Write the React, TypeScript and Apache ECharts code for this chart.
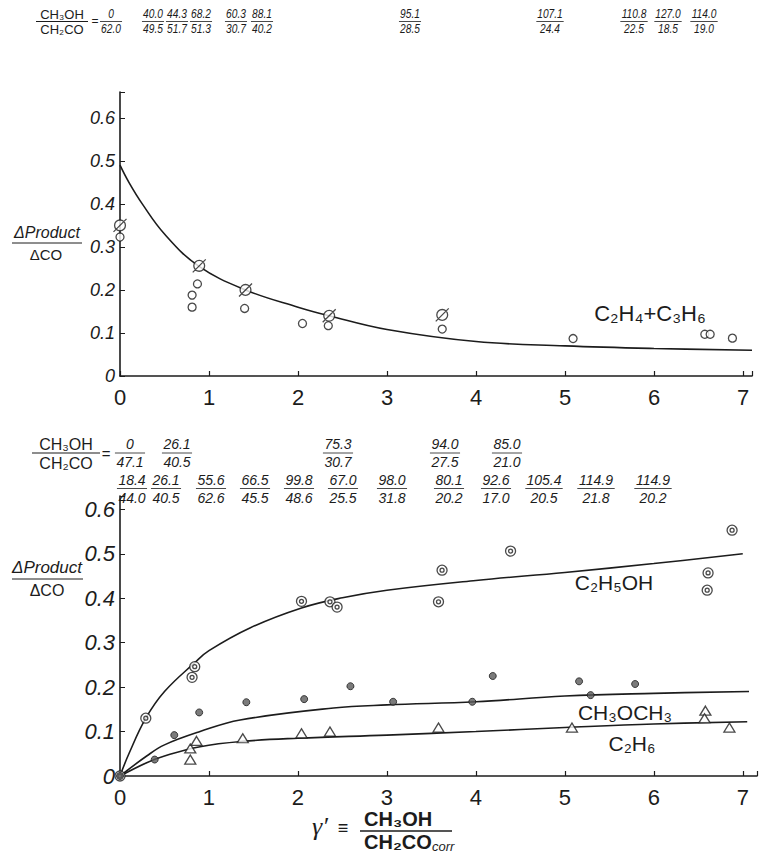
import React, { useEffect, useRef } from "react";
import * as echarts from "echarts";

// ---------- DATA ----------
// Upper panel: C2H4 + C3H6
const topOpenX = [0, 0.87, 0.81, 0.81, 1.4, 2.05, 2.34, 3.62, 5.09, 6.57, 6.63, 6.88];
const topOpenY = [0.323, 0.214, 0.188, 0.16, 0.157, 0.122, 0.117, 0.109, 0.087, 0.097, 0.097, 0.088];
const topTickX = [0, 0.89, 1.41, 2.35, 3.62];
const topTickY = [0.35, 0.256, 0.2, 0.14, 0.142];
const topCurveX = [0, 0.1, 0.25, 0.5, 0.88, 1.41, 2, 2.35, 3, 4, 5, 6, 7.1];
const topCurveY = [0.49, 0.45, 0.4, 0.33, 0.256, 0.2, 0.16, 0.14, 0.108, 0.08, 0.07, 0.064, 0.06];

// Lower panel
const etohX = [0, 0.29, 0.84, 0.81, 2.04, 2.36, 2.44, 3.62, 3.58, 4.39, 6.61, 6.6, 6.88];
const etohY = [0, 0.13, 0.246, 0.222, 0.393, 0.392, 0.38, 0.463, 0.392, 0.506, 0.457, 0.418, 0.553];
const etohCurveX = [0, 0.1, 0.29, 0.5, 0.84, 1.0, 1.46, 2.04, 2.5, 3, 4, 5, 6, 7];
const etohCurveY = [0, 0.05, 0.13, 0.19, 0.255, 0.282, 0.333, 0.378, 0.401, 0.418, 0.44, 0.458, 0.478, 0.5];

const meX = [0, 0.39, 0.61, 0.89, 1.42, 2.07, 2.59, 3.07, 3.96, 4.19, 5.16, 5.29, 5.79];
const meY = [0, 0.037, 0.092, 0.143, 0.166, 0.173, 0.202, 0.167, 0.167, 0.225, 0.213, 0.182, 0.207];
const meCurveX = [0, 0.3, 0.5, 0.9, 1.35, 2.4, 3, 4, 5, 6, 7.07];
const meCurveY = [0, 0.045, 0.07, 0.1, 0.126, 0.153, 0.16, 0.167, 0.18, 0.186, 0.19];

const etX = [0.79, 0.79, 0.86, 1.38, 2.04, 2.36, 3.58, 5.08, 6.58, 6.57, 6.85];
const etY = [0.037, 0.062, 0.079, 0.085, 0.096, 0.1, 0.109, 0.109, 0.147, 0.13, 0.109];
const etCurveX = [0, 0.3, 0.5, 0.9, 1.38, 2, 3, 4, 5, 6, 7.05];
const etCurveY = [0, 0.03, 0.045, 0.066, 0.078, 0.085, 0.092, 0.1, 0.109, 0.117, 0.122];

// Ratio annotations CH3OH / CH2CO
const rowANum = ["0", "40.0", "44.3", "68.2", "60.3", "88.1", "95.1", "107.1", "110.8", "127.0", "114.0"];
const rowADen = ["62.0", "49.5", "51.7", "51.3", "30.7", "40.2", "28.5", "24.4", "22.5", "18.5", "19.0"];
const rowBNum = ["0", "26.1", "75.3", "94.0", "85.0"];
const rowBDen = ["47.1", "40.5", "30.7", "27.5", "21.0"];
const rowCNum = ["18.4", "26.1", "55.6", "66.5", "99.8", "67.0", "98.0", "80.1", "92.6", "105.4", "114.9", "114.9"];
const rowCDen = ["44.0", "40.5", "62.6", "45.5", "48.6", "25.5", "31.8", "20.2", "17.0", "20.5", "21.8", "20.2"];

// ---------- LAYOUT (positions only) ----------
const rowAX = [111, 153, 177, 201, 236, 262, 410, 550, 634, 668, 704];
const rowBX = [130, 177, 338, 445, 507];
const rowCX = [132, 166, 211, 255, 299, 343, 392, 449, 496, 544, 596, 653];

const INK = "#1c1c1c";
const HAND = "'Liberation Sans', 'DejaVu Sans', sans-serif";
const SANS = "'Liberation Sans', 'DejaVu Sans', sans-serif";

const zip = (xs: number[], ys: number[]) => xs.map((x, i) => [x, ys[i]]);

function txt(x: number, y: number, text: string, fontSize: number, opts: any = {}) {
  return {
    type: "text",
    x,
    y,
    scaleX: opts.scaleX || 1,
    silent: true,
    style: {
      text,
      fontSize,
      fontFamily: opts.fontFamily || HAND,
      fontStyle: opts.fontStyle || "italic",
      fontWeight: opts.fontWeight || "normal",
      fill: INK,
      align: opts.align || "center",
      verticalAlign: "middle",
    },
  };
}

function hline(x1: number, x2: number, y: number, w = 1) {
  return {
    type: "line",
    silent: true,
    shape: { x1, y1: y, x2, y2: y },
    style: { stroke: INK, lineWidth: w },
  };
}

function fracRow(
  xs: number[], nums: string[], dens: string[],
  yN: number, yL: number, yD: number, fs: number, sx: number
) {
  const out: any[] = [];
  xs.forEach((cx, i) => {
    const w = (Math.max(nums[i].length, dens[i].length) * fs * 0.52 + 1) * sx;
    out.push(txt(cx, yN, nums[i], fs, { scaleX: sx }));
    out.push(hline(cx - w / 2, cx + w / 2, yL, 0.8));
    out.push(txt(cx, yD, dens[i], fs, { scaleX: sx }));
  });
  return out;
}

const tickedCircle = "path://M2,7a5,5 0 1,0 10,0a5,5 0 1,0 -10,0Z M1,13 L13,1";
const doubleCircle = "path://M0,6a6,6 0 1,0 12,0a6,6 0 1,0 -12,0Z M3.6,6a2.4,2.4 0 1,0 4.8,0a2.4,2.4 0 1,0 -4.8,0Z";

const xFmt = (v: number) => (Math.abs(v - Math.round(v)) < 1e-6 ? String(Math.round(v)) : "");
const yFmt = (v: number) => {
  const r = Math.round(v * 10) / 10;
  if (Math.abs(v - r) > 1e-6) return "";
  return r === 0 ? "0" : r.toFixed(1);
};

function xAxisCfg(gridIndex: number, max: number) {
  return {
    type: "value",
    gridIndex,
    min: 0,
    max,
    interval: 1,
    axisLine: { lineStyle: { color: INK, width: 1.6 } },
    axisTick: { inside: true, length: 5, lineStyle: { color: INK, width: 1.2 } },
    splitLine: { show: false },
    axisLabel: { formatter: xFmt, color: INK, fontSize: 22, fontFamily: SANS, margin: 10 },
  };
}

function yAxisCfg(gridIndex: number, max: number, fs: number) {
  return {
    type: "value",
    gridIndex,
    min: 0,
    max,
    interval: 0.1,
    axisLine: { show: true, lineStyle: { color: INK, width: 1.6 } },
    axisTick: { show: true, inside: true, length: 5, lineStyle: { color: INK, width: 1 } },
    splitLine: { show: false },
    axisLabel: { formatter: yFmt, color: INK, fontSize: fs, fontFamily: SANS, fontStyle: "italic", margin: 5 },
  };
}

function curve(name: string, xi: number, xs: number[], ys: number[]) {
  return {
    name,
    type: "line",
    xAxisIndex: xi,
    yAxisIndex: xi,
    data: zip(xs, ys),
    smooth: 0.4,
    showSymbol: false,
    symbol: "none",
    lineStyle: { color: INK, width: 1.6 },
    z: 2,
  };
}

export default function App() {
  const ref = useRef<HTMLDivElement>(null);
  useEffect(() => {
    document.body.style.margin = "0";
    const chart = echarts.init(ref.current!, null, { renderer: "svg" });
    const graphics: any[] = [
      // header row A
      txt(62, 14, "CH₃OH", 13, { fontFamily: SANS, fontStyle: "normal" }),
      hline(36, 88, 21.5, 1),
      txt(62, 29, "CH₂CO", 13, { fontFamily: SANS, fontStyle: "normal" }),
      txt(95, 21, "=", 12, { fontFamily: SANS, fontStyle: "normal" }),
      ...fracRow(rowAX, rowANum, rowADen, 14, 21.5, 29, 12, 0.85),
      // upper y title
      txt(47, 232, "ΔProduct", 16),
      hline(12, 82, 243, 1),
      txt(46, 254, "ΔCO", 15, { fontStyle: "normal" }),
      // upper label
      txt(650, 313, "C₂H₄+C₃H₆", 22, { fontFamily: SANS, fontStyle: "normal" }),
      // header row B
      txt(66, 444, "CH₃OH", 16, { fontFamily: SANS, fontStyle: "normal" }),
      hline(32, 100, 453, 1.2),
      txt(66, 463, "CH₂CO", 16, { fontFamily: SANS, fontStyle: "normal" }),
      txt(106, 453, "=", 15, { fontFamily: SANS, fontStyle: "normal" }),
      ...fracRow(rowBX, rowBNum, rowBDen, 444, 453, 462, 14, 1),
      // row C
      ...fracRow(rowCX, rowCNum, rowCDen, 480, 488.5, 498, 14, 1),
      // lower y title
      txt(47, 567, "ΔProduct", 17),
      hline(12, 83, 579, 1),
      txt(47, 590, "ΔCO", 16, { fontStyle: "normal" }),
      // lower labels
      txt(614, 582, "C₂H₅OH", 21, { fontFamily: SANS, fontStyle: "normal" }),
      txt(625, 712, "CH₃OCH₃", 21, { fontFamily: SANS, fontStyle: "normal" }),
      txt(632, 743, "C₂H₆", 21, { fontFamily: SANS, fontStyle: "normal" }),
      // x title
      txt(320, 826, "γ′", 26, { fontFamily: "'Liberation Serif', serif" }),
      txt(343, 828, "≡", 18, { fontFamily: SANS, fontStyle: "normal" }),
      txt(364, 819, "CH₃OH", 20, { fontFamily: SANS, fontStyle: "normal", fontWeight: "bold", align: "left" }),
      hline(360, 452, 831, 1.4),
      txt(364, 842, "CH₂CO", 20, { fontFamily: SANS, fontStyle: "normal", fontWeight: "bold", align: "left" }),
      txt(432, 846, "corr", 13, { fontFamily: SANS, fontStyle: "italic", align: "left" }),
    ];

    const option: any = {
      animation: false,
      backgroundColor: "#ffffff",
      grid: [
        { left: 120, top: 92, width: 632, height: 284 },
        { left: 120, top: 496, width: 637, height: 280 },
      ],
      xAxis: [xAxisCfg(0, 7.1), xAxisCfg(1, 7.16)],
      yAxis: [yAxisCfg(0, 0.66, 18), yAxisCfg(1, 0.63, 22)],
      series: [
        curve("C2H4+C3H6 fit", 0, topCurveX, topCurveY),
        {
          name: "C2H4+C3H6",
          type: "scatter",
          xAxisIndex: 0,
          yAxisIndex: 0,
          data: zip(topOpenX, topOpenY),
          symbol: "circle",
          symbolSize: 8,
          itemStyle: { color: "#ffffff", borderColor: INK, borderWidth: 1.3 },
          z: 3,
        },
        {
          name: "C2H4+C3H6 (b)",
          type: "scatter",
          xAxisIndex: 0,
          yAxisIndex: 0,
          data: zip(topTickX, topTickY),
          symbol: tickedCircle,
          symbolSize: 13,
          itemStyle: { color: "#ffffff", borderColor: INK, borderWidth: 1.3 },
          z: 3,
        },
        curve("C2H5OH fit", 1, etohCurveX, etohCurveY),
        curve("CH3OCH3 fit", 1, meCurveX, meCurveY),
        curve("C2H6 fit", 1, etCurveX, etCurveY),
        {
          name: "C2H5OH",
          type: "scatter",
          xAxisIndex: 1,
          yAxisIndex: 1,
          data: zip(etohX, etohY),
          symbol: doubleCircle,
          symbolSize: 10,
          itemStyle: { color: "#ffffff", borderColor: INK, borderWidth: 1.3 },
          z: 3,
        },
        {
          name: "CH3OCH3",
          type: "scatter",
          xAxisIndex: 1,
          yAxisIndex: 1,
          data: zip(meX, meY),
          symbol: "circle",
          symbolSize: 7,
          itemStyle: { color: "#5a5a5a", borderColor: INK, borderWidth: 1 },
          z: 3,
        },
        {
          name: "C2H6",
          type: "scatter",
          xAxisIndex: 1,
          yAxisIndex: 1,
          data: zip(etX, etY),
          symbol: "triangle",
          symbolSize: [11, 9],
          itemStyle: { color: "#ffffff", borderColor: INK, borderWidth: 1.3 },
          z: 3,
        },
      ],
      graphic: { elements: graphics },
    };
    chart.setOption(option);
    return () => chart.dispose();
  }, []);
  return <div ref={ref} style={{ width: 763, height: 857 }} />;
}
